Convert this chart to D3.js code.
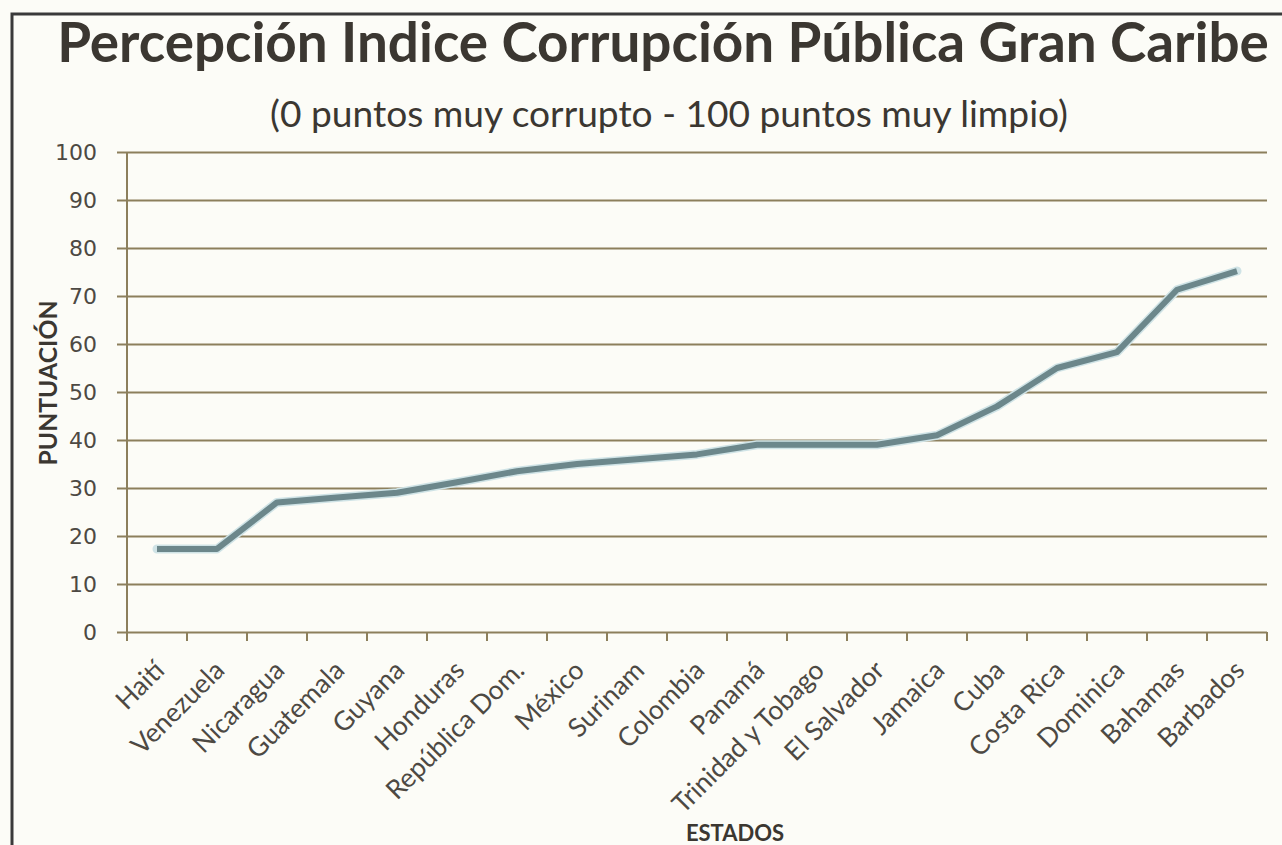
<!DOCTYPE html>
<html>
<head>
<meta charset="utf-8">
<script src="https://cdn.jsdelivr.net/npm/d3@7"></script>
<style>
  html, body { margin: 0; padding: 0; background: #fcfcf7; }
  svg { display: block; }
</style>
</head>
<body>
<div id="chart"></div>
<script>
// Percepción Indice Corrupción Pública Gran Caribe
var estados = ['Haití', 'Venezuela', 'Nicaragua', 'Guatemala', 'Guyana', 'Honduras',
  'República Dom.', 'México', 'Surinam', 'Colombia', 'Panamá', 'Trinidad y Tobago',
  'El Salvador', 'Jamaica', 'Cuba', 'Costa Rica', 'Dominica', 'Bahamas', 'Barbados'];
var puntuacion = [17.3, 17.3, 27, 28, 29, 31.2, 33.5, 35, 36, 37, 39, 39, 39, 41, 47, 55, 58.3, 71.3, 75.2];
var yTicks = [0, 10, 20, 30, 40, 50, 60, 70, 80, 90, 100];

var titulo = 'Percepción Indice Corrupción Pública Gran Caribe';
var subtitulo = '(0 puntos muy corrupto - 100 puntos muy limpio)';

var W = 1282, H = 845;
var margin = { top: 152, right: 15, bottom: 213, left: 127 };
var GRID = '#8c7f5c', INK = '#3b3731', LABEL = '#4d4943';

var svg = d3.select('#chart').append('svg')
  .attr('width', W).attr('height', H)
  .attr('viewBox', [0, 0, W, H]);

// frame of the scanned chart (only top and left edges visible)
svg.append('path')
  .attr('d', 'M12,' + H + 'V14H' + W)
  .attr('fill', 'none')
  .attr('stroke', '#3a3a3a')
  .attr('stroke-width', 3);

var x = d3.scaleBand()
  .domain(estados)
  .range([margin.left, W - margin.right]);
var y = d3.scaleLinear()
  .domain([0, 100])
  .range([H - margin.bottom, margin.top]);

// horizontal gridlines + left ticks
var yAxis = d3.axisLeft(y)
  .tickValues(yTicks)
  .tickSize(-(W - margin.right - margin.left) - 10)
  .tickPadding(20)
  .tickFormat(d3.format('d'));

var gy = svg.append('g')
  .attr('transform', 'translate(' + (margin.left - 10) + ',0)')
  .call(yAxis);
gy.select('.domain').remove();
gy.selectAll('.tick line')
  .attr('stroke', GRID)
  .attr('stroke-width', 2);
gy.selectAll('.tick text')
  .attr('fill', LABEL)
  .style('font-family', '"DejaVu Sans", Verdana, sans-serif')
  .style('font-size', '22px');

// vertical axis line
svg.append('line')
  .attr('x1', margin.left).attr('x2', margin.left)
  .attr('y1', y(100)).attr('y2', y(0) + 9)
  .attr('stroke', GRID).attr('stroke-width', 2);

// x axis ticks at category boundaries
var bounds = estados.map(function(d) { return x(d); }).concat([x.range()[1]]);
svg.append('g').selectAll('line')
  .data(bounds)
  .join('line')
  .attr('x1', function(d) { return d; })
  .attr('x2', function(d) { return d; })
  .attr('y1', y(0))
  .attr('y2', y(0) + 9)
  .attr('stroke', GRID)
  .attr('stroke-width', 2);

// category labels, rotated
svg.append('g').selectAll('text')
  .data(estados)
  .join('text')
  .attr('transform', function(d) {
    return 'translate(' + (x(d) + x.bandwidth() / 2 + 9) + ',' + (y(0) + 40) + ') rotate(-45)';
  })
  .attr('text-anchor', 'end')
  .attr('fill', LABEL)
  .style('font-family', 'Lato, "Open Sans", sans-serif')
  .style('font-size', '26.5px')
  .text(function(d) { return d; });

// the series line
var line = d3.line()
  .x(function(d, i) { return x(estados[i]) + x.bandwidth() / 2; })
  .y(function(d) { return y(d); });

svg.append('path')
  .datum(puntuacion)
  .attr('d', line)
  .attr('fill', 'none')
  .attr('stroke', '#cfe3e6')
  .attr('stroke-width', 9)
  .attr('stroke-linejoin', 'round')
  .attr('stroke-linecap', 'round');
svg.append('path')
  .datum(puntuacion)
  .attr('d', line)
  .attr('fill', 'none')
  .attr('stroke', '#6c878b')
  .attr('stroke-width', 6)
  .attr('stroke-linejoin', 'round');

// fit a text node to a wanted width
function fit(sel, width) {
  var len = sel.node().getComputedTextLength();
  var fs = parseFloat(sel.style('font-size'));
  sel.style('font-size', (fs * width / len) + 'px');
}

var t = svg.append('text')
  .attr('x', 663).attr('y', 62)
  .attr('text-anchor', 'middle')
  .attr('fill', INK)
  .style('font-family', 'Lato, "Open Sans", sans-serif')
  .style('font-weight', 'bold')
  .style('font-size', '50px')
  .text(titulo);
fit(t, 1212);

var st = svg.append('text')
  .attr('x', 669).attr('y', 127)
  .attr('text-anchor', 'middle')
  .attr('fill', INK)
  .style('font-family', 'Lato, "Open Sans", sans-serif')
  .style('font-size', '28px')
  .text(subtitulo);
fit(st, 798);

var yl = svg.append('text')
  .attr('transform', 'translate(57,383) rotate(-90)')
  .attr('text-anchor', 'middle')
  .attr('fill', INK)
  .style('font-family', 'Lato, "Open Sans", sans-serif')
  .style('font-weight', 'bold')
  .style('font-size', '22px')
  .text('PUNTUACIÓN');
fit(yl, 165);

svg.append('text')
  .attr('x', 735).attr('y', 841)
  .attr('text-anchor', 'middle')
  .attr('fill', INK)
  .style('font-family', 'Lato, "Open Sans", sans-serif')
  .style('font-weight', 'bold')
  .style('font-size', '22px')
  .text('ESTADOS');
</script>
</body>
</html>
